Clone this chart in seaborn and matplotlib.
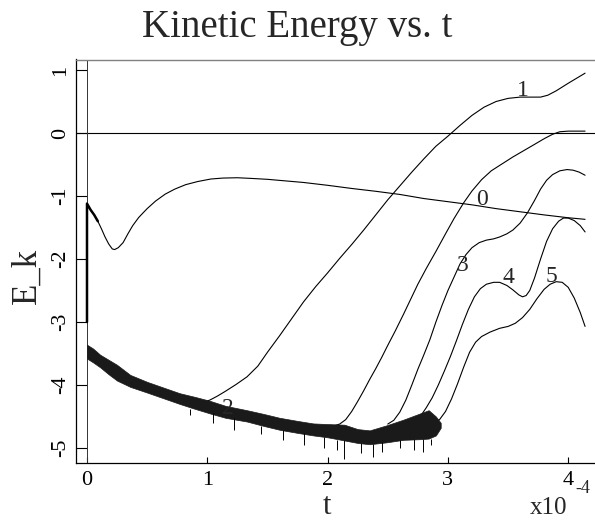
import matplotlib
matplotlib.use("Agg")
import matplotlib.pyplot as plt
import seaborn as sns
import pandas as pd

# time values are in units of 1e-4
c0_t = [0.0, 0.0, 0.03, 0.06, 0.09, 0.12, 0.15, 0.18, 0.21, 0.23, 0.26, 0.3, 0.34, 0.38, 0.43, 0.5,
        0.57, 0.65, 0.73, 0.82, 0.92, 1.03, 1.13, 1.25, 1.36, 1.5, 1.65, 1.8, 2.0, 2.2, 2.4, 2.6,
        2.8, 3.0, 3.2, 3.4, 3.6, 3.8, 4.0, 4.14]
c0_E = [-3.0, -1.12, -1.22, -1.3, -1.4, -1.52, -1.65, -1.76, -1.84, -1.85, -1.82, -1.74, -1.6, -1.47,
        -1.34, -1.2, -1.08, -0.97, -0.89, -0.82, -0.77, -0.73, -0.715, -0.71, -0.72, -0.735, -0.76,
        -0.785, -0.83, -0.88, -0.925, -0.975, -1.04, -1.09, -1.14, -1.2, -1.25, -1.3, -1.345, -1.37]

c1_t = [0.9, 0.97, 1.02, 1.08, 1.15, 1.24, 1.33, 1.42, 1.5, 1.6, 1.7, 1.8, 1.9, 2.0, 2.1, 2.2, 2.3,
        2.4, 2.5, 2.6, 2.7, 2.8, 2.9, 3.0, 3.1, 3.2, 3.3, 3.4, 3.5, 3.6, 3.7, 3.77, 3.83, 3.9, 4.0,
        4.07, 4.14]
c1_E = [-4.28, -4.27, -4.24, -4.18, -4.1, -3.99, -3.87, -3.7, -3.48, -3.22, -2.95, -2.68, -2.44,
        -2.22, -1.99, -1.77, -1.54, -1.3, -1.06, -0.84, -0.62, -0.41, -0.21, -0.05, 0.12, 0.28, 0.41,
        0.5, 0.55, 0.57, 0.57, 0.57, 0.6, 0.67, 0.79, 0.87, 0.95]

c2_t = [2.05, 2.1, 2.15, 2.2, 2.25, 2.3, 2.35, 2.4, 2.45, 2.5, 2.56, 2.63, 2.7, 2.75, 2.82, 2.9,
        2.98, 3.05, 3.13, 3.2, 3.28, 3.36, 3.45, 3.54, 3.63, 3.72, 3.8, 3.87, 3.93, 4.0, 4.14]
c2_E = [-4.65, -4.62, -4.55, -4.42, -4.26, -4.09, -3.91, -3.74, -3.56, -3.37, -3.15, -2.88, -2.6,
        -2.4, -2.15, -1.88, -1.6, -1.36, -1.11, -0.92, -0.74, -0.6, -0.49, -0.38, -0.28, -0.18,
        -0.09, -0.02, 0.02, 0.03, 0.03]

c3_t = [2.5, 2.55, 2.6, 2.65, 2.7, 2.75, 2.8, 2.85, 2.9, 2.95, 3.0, 3.05, 3.1, 3.15, 3.2, 3.26,
        3.32, 3.38, 3.43, 3.49, 3.54, 3.6, 3.66, 3.72, 3.77, 3.82, 3.87, 3.93, 3.99, 4.04, 4.09, 4.14]
c3_E = [-4.62, -4.56, -4.43, -4.24, -4.0, -3.75, -3.52, -3.28, -3.0, -2.74, -2.5, -2.29, -2.08,
        -1.93, -1.82, -1.74, -1.7, -1.68, -1.65, -1.6, -1.54, -1.43, -1.27, -1.07, -0.89, -0.75,
        -0.66, -0.6, -0.58, -0.59, -0.62, -0.67]

c4_t = [2.72, 2.77, 2.82, 2.87, 2.92, 2.97, 3.02, 3.07, 3.12, 3.17, 3.22, 3.27, 3.32, 3.38, 3.43,
        3.49, 3.54, 3.59, 3.62, 3.65, 3.68, 3.72, 3.77, 3.82, 3.87, 3.92, 3.96, 4.0, 4.05, 4.1, 4.14]
c4_E = [-4.6, -4.5, -4.36, -4.2, -4.0, -3.78, -3.55, -3.3, -3.04, -2.8, -2.6, -2.47, -2.4, -2.37,
        -2.37, -2.42, -2.49, -2.57, -2.6, -2.58, -2.5, -2.3, -2.0, -1.72, -1.52, -1.4, -1.35, -1.35,
        -1.39, -1.47, -1.57]

c5_t = [2.82, 2.88, 2.93, 2.98, 3.03, 3.08, 3.13, 3.18, 3.23, 3.28, 3.35, 3.43, 3.5, 3.56, 3.62,
        3.68, 3.74, 3.8, 3.85, 3.9, 3.95, 4.0, 4.05, 4.1, 4.14]
c5_E = [-4.62, -4.6, -4.55, -4.42, -4.22, -3.98, -3.72, -3.48, -3.32, -3.23, -3.16, -3.1, -3.07,
        -3.02, -2.93, -2.8, -2.63, -2.48, -2.4, -2.36, -2.37, -2.45, -2.62, -2.85, -3.07]

# noisy band shared by curves 1-5 early on (upper / lower envelopes)
band_t = [0.0, 0.05, 0.11, 0.18, 0.25, 0.36, 0.5, 0.65, 0.77, 0.9, 1.02, 1.15, 1.33, 1.47, 1.6,
          1.75, 1.88, 2.0, 2.14, 2.25, 2.35, 2.49, 2.63, 2.77, 2.84, 2.9, 2.94]
band_upper = [-3.36, -3.42, -3.52, -3.6, -3.68, -3.84, -3.95, -4.05, -4.13, -4.19, -4.25, -4.33,
              -4.4, -4.46, -4.52, -4.57, -4.61, -4.62, -4.63, -4.7, -4.72, -4.64, -4.55, -4.45,
              -4.4, -4.5, -4.6]
band_lower = [-3.58, -3.64, -3.72, -3.83, -3.93, -4.03, -4.12, -4.22, -4.3, -4.38, -4.45, -4.52,
              -4.58, -4.65, -4.71, -4.76, -4.8, -4.83, -4.88, -4.92, -4.94, -4.91, -4.87, -4.86,
              -4.85, -4.8, -4.68]
spike_t = [0.86, 1.05, 1.22, 1.45, 1.63, 1.8, 1.97, 2.08, 2.14, 2.28, 2.38, 2.45, 2.6, 2.72, 2.79, 2.86]
spike_low = [-4.48, -4.6, -4.71, -4.78, -4.87, -4.95, -5.0, -5.03, -5.17, -5.08, -5.14, -5.06,
             -5.0, -5.03, -5.06, -4.96]

label_text = ["0", "1", "2", "3", "4", "5"]
label_t = [3.28, 3.62, 1.17, 3.12, 3.5, 3.86]
label_E = [-1.06, 0.68, -4.37, -2.1, -2.3, -2.27]

x_ticks = [0, 1, 2, 3, 4]
y_ticks = [-5, -4, -3, -2, -1, 0, 1]

series = {"0": (c0_t, c0_E), "1": (c1_t, c1_E), "2": (c2_t, c2_E),
          "3": (c3_t, c3_E), "4": (c4_t, c4_E), "5": (c5_t, c5_E)}
rows = []
for name, (ts, es) in series.items():
    for t, e in zip(ts, es):
        rows.append((name, t, e))
df = pd.DataFrame(rows, columns=["series", "t", "E"])

sns.set_style("ticks")
plt.rcParams["font.family"] = ["Liberation Serif", "DejaVu Serif"]

W, H = 595, 531
fig = plt.figure(figsize=(W / 100, H / 100), dpi=100)
ax = fig.add_axes([76 / W, 68 / H, 524 / W, 403.5 / H])

ax.axhline(0, color="black", lw=0.8, zorder=1)
ax.axvline(0, color="#333333", lw=0.7, zorder=1)

sns.lineplot(data=df, x="t", y="E", units="series", estimator=None, sort=False,
             color="black", lw=0.8, ax=ax, legend=False, zorder=3)
# noisy start of curve 0 drawn heavier
ax.plot(c0_t[:5], c0_E[:5], color="black", lw=1.8, zorder=3)
ax.fill_between(band_t, band_lower, band_upper, color="#1a1a1a", lw=0.5, zorder=4)


def band_low_at(s):
    i = min(range(len(band_t)), key=lambda k: abs(band_t[k] - s))
    return band_lower[i]


ax.vlines(spike_t, spike_low, [band_low_at(s) for s in spike_t], color="black", lw=0.7, zorder=4)

for txt, tt, ee in zip(label_text, label_t, label_E):
    ax.text(tt, ee, txt, fontsize=17, ha="center", va="center", zorder=5)

ax.set_xlim(-0.0914, 4.264)
ax.set_ylim(-5.238, 1.167)
ax.set_xticks(x_ticks)
ax.set_xticklabels([str(v) for v in x_ticks])
ax.set_yticks(y_ticks)
ax.set_yticklabels([str(v) for v in y_ticks], rotation=90, va="center")
ax.tick_params(axis="y", direction="in", length=8, width=0.8, pad=4.5, labelsize=16, colors="black")
ax.tick_params(axis="x", direction="in", length=4.3, width=0.8, pad=6.0, labelsize=16, colors="black")
ax.set_xlabel("")
ax.set_ylabel("")
for s in ["left", "bottom"]:
    ax.spines[s].set_color("black")
    ax.spines[s].set_linewidth(0.9)
ax.spines["top"].set_color("#808080")
ax.spines["top"].set_linewidth(1.0)
ax.spines["right"].set_visible(False)

fig.text(0.5, (H - 37) / H, "Kinetic Energy vs. t", fontsize=28, ha="center", va="baseline")
fig.text(327 / W, (H - 514) / H, "t", fontsize=22, ha="center", va="baseline")
fig.text(27.5 / W, 255 / H, "E_k", fontsize=25, rotation=90, ha="center", va="center")
fig.text(530 / W, (H - 514) / H, "x10", fontsize=18, ha="left", va="baseline")
fig.text(575 / W, (H - 493) / H, "-4", fontsize=13, ha="left", va="baseline")

fig.savefig("out.png", dpi=100)
